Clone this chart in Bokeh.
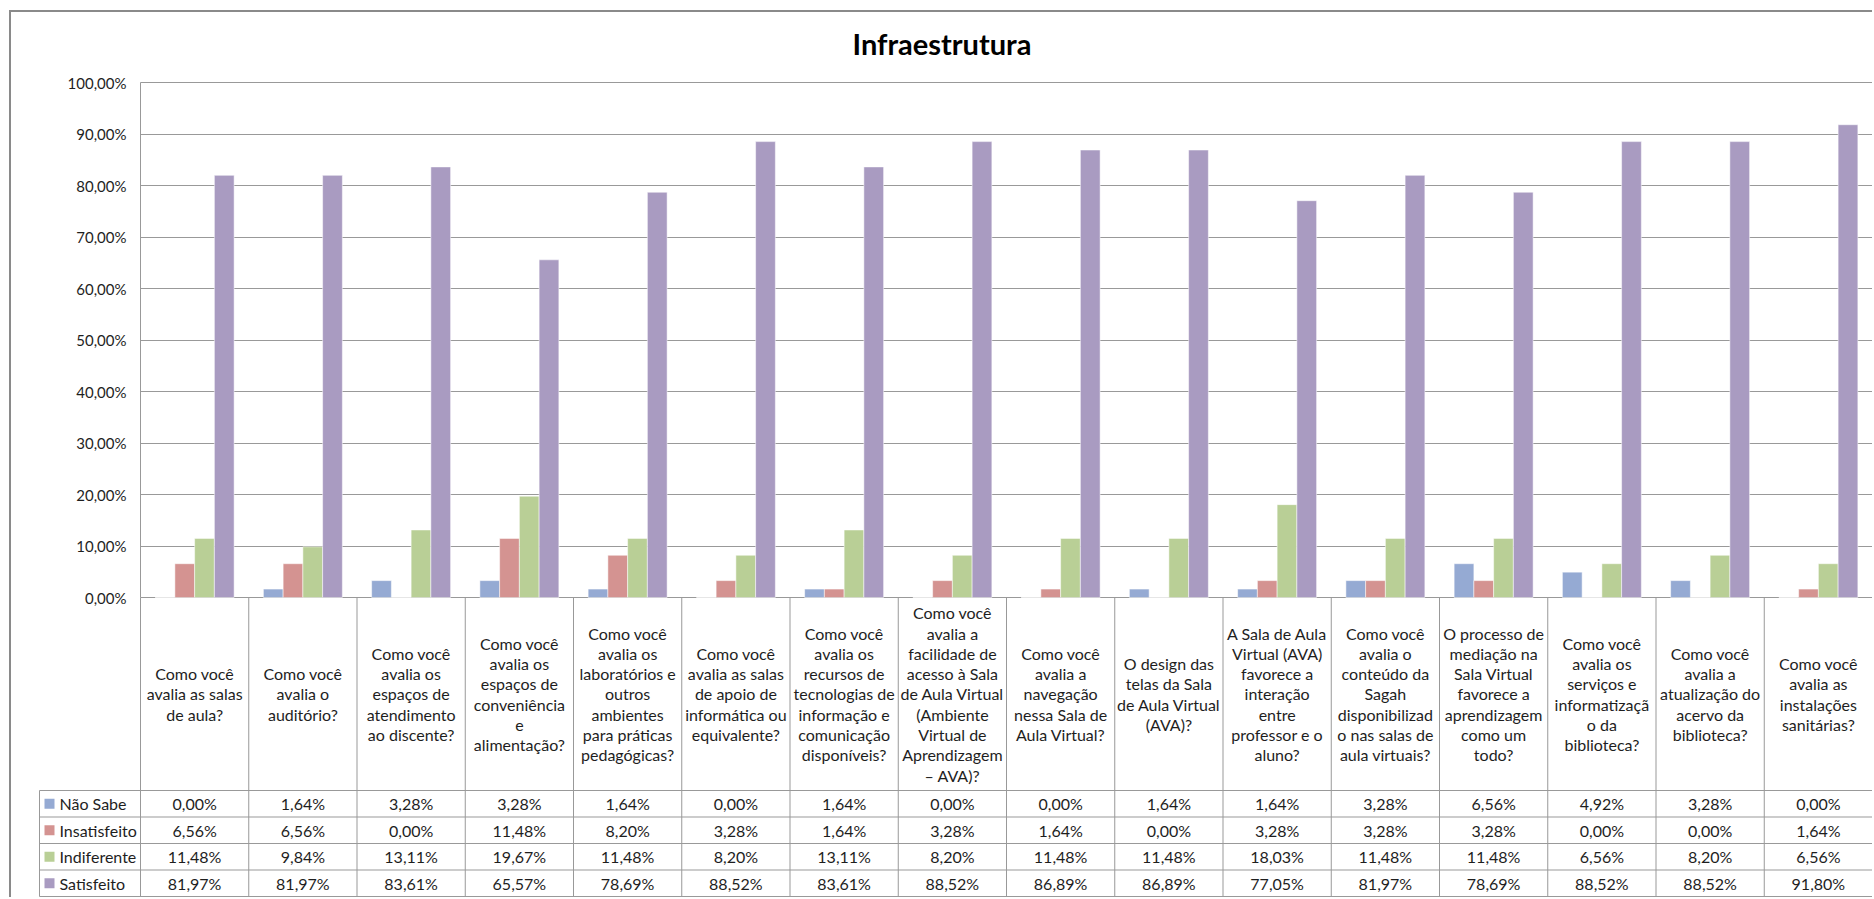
from bokeh.plotting import figure
from bokeh.models import Range1d, FixedTicker, Title, Grid
from bokeh.layouts import column
from bokeh.embed import file_html
from bokeh.resources import INLINE
from bokeh.core.properties import value

# ---------------- data ----------------
categories = [
    "Como você\navalia as salas\nde aula?",
    "Como você\navalia o\nauditório?",
    "Como você\navalia os\nespaços de\natendimento\nao discente?",
    "Como você\navalia os\nespaços de\nconveniência\ne\nalimentação?",
    "Como você\navalia os\nlaboratórios e\noutros\nambientes\npara práticas\npedagógicas?",
    "Como você\navalia as salas\nde apoio de\ninformática ou\nequivalente?",
    "Como você\navalia os\nrecursos de\ntecnologias de\ninformação e\ncomunicação\ndisponíveis?",
    "Como você\navalia a\nfacilidade de\nacesso à Sala\nde Aula Virtual\n(Ambiente\nVirtual de\nAprendizagem\n– AVA)?",
    "Como você\navalia a\nnavegação\nnessa Sala de\nAula Virtual?",
    "O design das\ntelas da Sala\nde Aula Virtual\n(AVA)?",
    "A Sala de Aula\nVirtual (AVA)\nfavorece a\ninteração\nentre\nprofessor e o\naluno?",
    "Como você\navalia o\nconteúdo da\nSagah\ndisponibilizad\no nas salas de\naula virtuais?",
    "O processo de\nmediação na\nSala Virtual\nfavorece a\naprendizagem\ncomo um\ntodo?",
    "Como você\navalia os\nserviços e\ninformatizaçã\no da\nbiblioteca?",
    "Como você\navalia a\natualização do\nacervo da\nbiblioteca?",
    "Como você\navalia as\ninstalações\nsanitárias?",
]
series_names = ["Não Sabe", "Insatisfeito", "Indiferente", "Satisfeito"]
nao_sabe = [0.00, 1.64, 3.28, 3.28, 1.64, 0.00, 1.64, 0.00, 0.00, 1.64, 1.64, 3.28, 6.56, 4.92, 3.28, 0.00]
insatisfeito = [6.56, 6.56, 0.00, 11.48, 8.20, 3.28, 1.64, 3.28, 1.64, 0.00, 3.28, 3.28, 3.28, 0.00, 0.00, 1.64]
indiferente = [11.48, 9.84, 13.11, 19.67, 11.48, 8.20, 13.11, 8.20, 11.48, 11.48, 18.03, 11.48, 11.48, 6.56, 8.20, 6.56]
satisfeito = [81.97, 81.97, 83.61, 65.57, 78.69, 88.52, 83.61, 88.52, 86.89, 86.89, 77.05, 81.97, 78.69, 88.52, 88.52, 91.80]
y_ticks = [0, 10, 20, 30, 40, 50, 60, 70, 80, 90, 100]
y_tick_labels = ["0,00%", "10,00%", "20,00%", "30,00%", "40,00%", "50,00%",
                 "60,00%", "70,00%", "80,00%", "90,00%", "100,00%"]

series_values = [nao_sabe, insatisfeito, indiferente, satisfeito]
colors = ["#95AAD3", "#D49391", "#B9CF96", "#A99BC1"]

# ---------------- layout / style (page pixels) ----------------
FONT = "Lato"
TXT = "#1e1e1e"
GRID = "#999999"
FS = "16px"
ORIGIN_X, ORIGIN_Y = 11, 12          # canvas origin after outer border
RIGHT_PX, BOTTOM_PX = 1872, 897      # canvas right / bottom
FRAME_TOP_PX = 71                    # top of the drawing frame
PLOT_LEFT = 140                      # plot-area left edge
TOP_PX, ZERO_PX = 82, 597            # 100 % and 0 % lines
CAT_BOTTOM_PX = 790                  # bottom of category-label cells
ROW_H_PX = 26.5                      # data-table row height
TABLE_LEFT_PX = 39
LEG_SQ_PX, LEG_TXT_PX = 49, 59
BAR_W = 0.1824

n = len(categories)
unit_x = (RIGHT_PX - PLOT_LEFT) / n
ppu = (ZERO_PX - TOP_PX) / 100.0


def xd(px):
    return (px - PLOT_LEFT) / unit_x


def yd(px):
    return (ZERO_PX - px) / ppu


p = figure(width=RIGHT_PX - ORIGIN_X, height=BOTTOM_PX - ORIGIN_Y,
           x_range=Range1d(xd(ORIGIN_X), n), y_range=Range1d(yd(BOTTOM_PX), yd(FRAME_TOP_PX)),
           x_axis_location=None, output_backend="svg", toolbar_location=None, tools="",
           min_border_left=0, min_border_right=0, min_border_bottom=0,
           min_border_top=FRAME_TOP_PX - ORIGIN_Y, outline_line_color=None)

title_kw = dict(text="Infraestrutura", align="center",
                text_font=FONT, text_font_size="29px", text_font_style="bold",
                text_color="black")
if "standoff" in Title.properties():
    title_kw["standoff"] = 21
p.add_layout(Title(**title_kw), "above")

# y axis at x = 0, only over 0..100 %
yax = p.yaxis[0]
yax.fixed_location = 0
yax.bounds = (0, 100)
yax.ticker = FixedTicker(ticks=y_ticks)
yax.major_label_overrides = {float(t): lab for t, lab in zip(y_ticks, y_tick_labels)}
yax.major_label_text_font = FONT
yax.major_label_text_font_size = "15px"
yax.major_label_text_color = TXT
yax.major_tick_line_color = None
yax.minor_tick_line_color = None
yax.major_tick_out = 0
yax.major_tick_in = 0
yax.major_label_standoff = 14
yax.axis_line_color = GRID

p.grid.visible = False
if "cross_bounds" in Grid.properties():
    g = Grid(dimension=1, ticker=FixedTicker(ticks=y_ticks), bounds=(0, 100),
             cross_bounds=(0, n), grid_line_color=GRID, grid_line_width=1.2)
    p.add_layout(g)
else:
    p.segment(x0=[0] * len(y_ticks), y0=y_ticks, x1=[n] * len(y_ticks), y1=y_ticks,
              line_color=GRID, line_width=1.2)

# bars
for k, vals in enumerate(series_values):
    xs = [i + 0.5 + (k - 1.5) * BAR_W for i in range(n)]
    p.vbar(x=xs, top=vals, bottom=0, width=BAR_W, fill_color=colors[k],
           line_color="white", line_alpha=0.5, line_width=1)

# ---------------- data table below the axis ----------------
n_rows = len(series_names)
row_top = [yd(CAT_BOTTOM_PX + r * ROW_H_PX) for r in range(n_rows + 1)]
table_bottom = row_top[-1]
col_x = list(range(n + 1))
p.segment(x0=col_x, y0=[0] * len(col_x), x1=col_x, y1=[table_bottom] * len(col_x),
          line_color=GRID, line_width=1)
p.segment(x0=[xd(TABLE_LEFT_PX)] * len(row_top), y0=row_top,
          x1=[n] * len(row_top), y1=row_top, line_color=GRID, line_width=1)
p.segment(x0=[xd(TABLE_LEFT_PX)], y0=[row_top[0]], x1=[xd(TABLE_LEFT_PX)], y1=[table_bottom],
          line_color=GRID, line_width=1)

p.text(x=[i + 0.5 for i in range(n)], y=[yd((ZERO_PX + CAT_BOTTOM_PX) / 2)] * n,
       text=categories, text_align="center", text_baseline="middle",
       text_font=value(FONT), text_font_size=FS, text_line_height=1.07, text_color=TXT)

row_c = [yd(CAT_BOTTOM_PX + (r + 0.5) * ROW_H_PX) for r in range(n_rows)]
p.scatter(x=[xd(LEG_SQ_PX)] * n_rows, y=row_c, marker="square", size=10,
          fill_color=colors, line_color=None)
p.text(x=[xd(LEG_TXT_PX)] * n_rows, y=row_c, text=series_names, text_align="left",
       text_baseline="middle", text_font=value(FONT), text_font_size=FS, text_color=TXT)

for r, vals in enumerate(series_values):
    labels = [f"{v:.2f}".replace(".", ",") + "%" for v in vals]
    p.text(x=[i + 0.5 for i in range(n)], y=[row_c[r]] * n, text=labels,
           text_align="center", text_baseline="middle", text_font=value(FONT),
           text_font_size=FS, text_color=TXT)

layout = column(p, styles={"margin-left": "9px", "margin-top": "10px",
                           "border-left": "2px solid #8a8a8a",
                           "border-top": "2px solid #8a8a8a"})

open("out.html", "w").write(file_html(layout, INLINE))
